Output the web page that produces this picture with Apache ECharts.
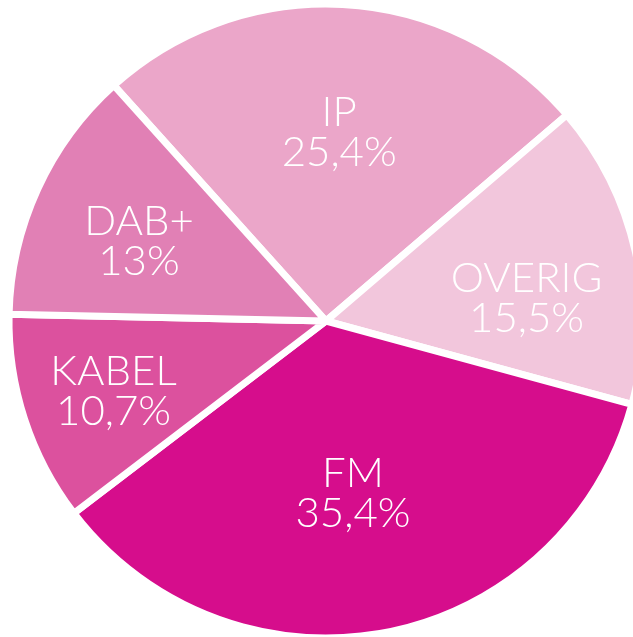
<!DOCTYPE html>
<html>
<head>
<meta charset="utf-8">
<script src="https://cdn.jsdelivr.net/npm/echarts@6/dist/echarts.min.js"></script>
<style>
  html, body { margin: 0; padding: 0; background: #fff; }
  #chart { width: 633px; height: 637px; }
</style>
</head>
<body>
<div id="chart"></div>
<script>
// Aandeel per ontvangstweg (%)
const categories = ['IP', 'OVERIG', 'FM', 'KABEL', 'DAB+'];
const shares = [25.4, 15.5, 35.4, 10.7, 13];
const colors = ['#eba6c9', '#f2c6dc', '#d60d8c', '#dc519e', '#e180b5'];
// kleine correctie van labelpositie per punt (px)
const labelOffsets = [[0, 15], [2, 22], [-12, -27], [-19, 7], [-2, 5]];

const chart = echarts.init(document.getElementById('chart'));

const center = [326, 321];
const startAngle = 132;

chart.setOption({
  backgroundColor: '#fff',
  animation: false,
  series: [
    // de taartpunten zelf
    {
      type: 'pie',
      center: center,
      radius: [0, 317],
      startAngle: startAngle,
      clockwise: true,
      avoidLabelOverlap: false,
      silent: true,
      itemStyle: { borderColor: '#fff', borderWidth: 7 },
      label: { show: false },
      labelLine: { show: false },
      data: categories.map((name, i) => ({
        name: name,
        value: shares[i],
        itemStyle: { color: colors[i] }
      }))
    },
    // onzichtbare ring, alleen om de labels verder naar buiten te zetten
    {
      type: 'pie',
      center: center,
      radius: [84, 317],
      startAngle: startAngle,
      clockwise: true,
      avoidLabelOverlap: false,
      silent: true,
      itemStyle: { color: 'transparent', borderWidth: 0 },
      label: {
        show: true,
        position: 'inside',
        color: '#fff',
        fontFamily: 'Lato',
        fontWeight: 300,
        fontSize: 42,
        lineHeight: 40,
        formatter: (p) => p.name + '\n' + String(p.value).replace('.', ',') + '%'
      },
      labelLine: { show: false },
      data: categories.map((name, i) => ({
        name: name,
        value: shares[i],
        label: { offset: labelOffsets[i] }
      }))
    }
  ]
});
</script>
</body>
</html>
